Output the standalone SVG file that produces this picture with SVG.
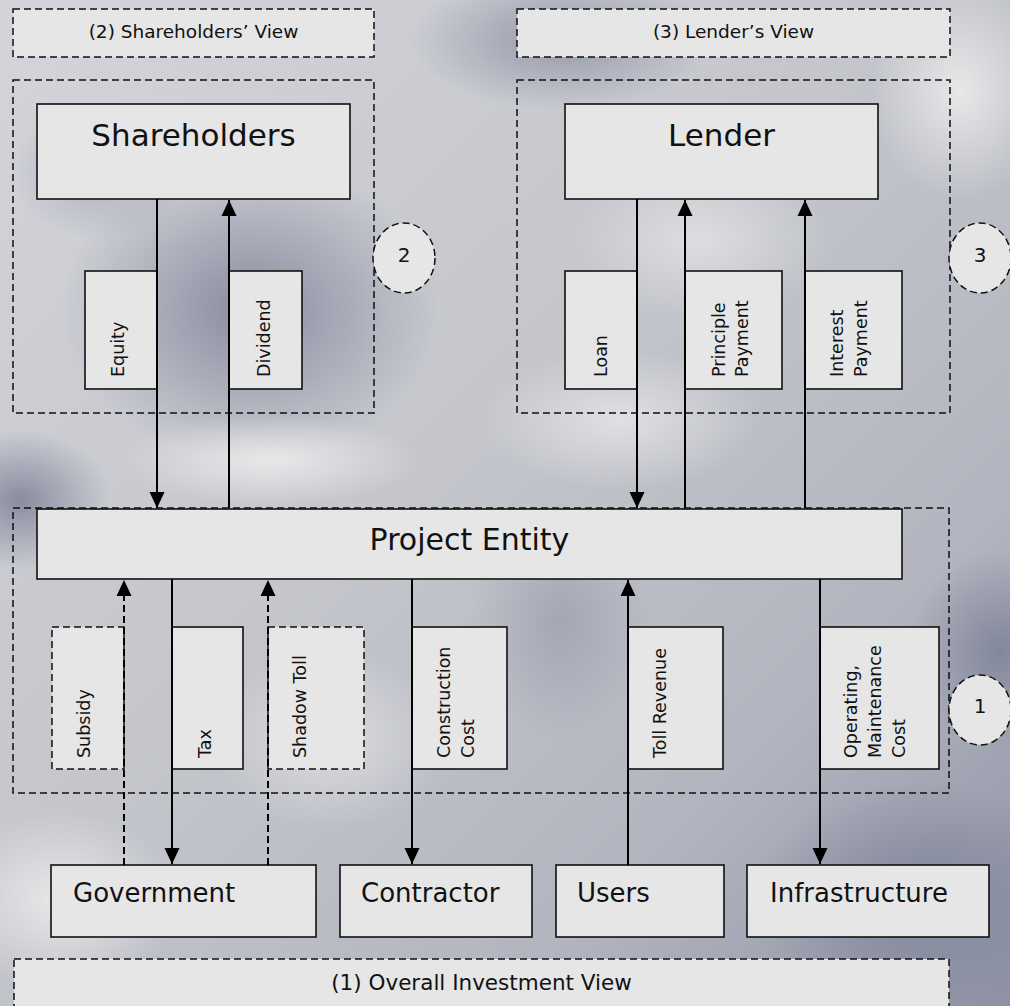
<svg xmlns="http://www.w3.org/2000/svg" width="1010" height="1006" viewBox="0 0 1010 1006">
  <defs>
    <linearGradient id="bgLin" x1="0" y1="0" x2="1" y2="1">
      <stop offset="0" stop-color="#d4d5da"/>
      <stop offset="0.45" stop-color="#c4c6cc"/>
      <stop offset="0.75" stop-color="#b2b5bf"/>
      <stop offset="1" stop-color="#8e92a4"/>
    </linearGradient>
    <radialGradient id="dark">
      <stop offset="0" stop-color="#7d8197" stop-opacity="0.85"/>
      <stop offset="1" stop-color="#7d8197" stop-opacity="0"/>
    </radialGradient>
    <radialGradient id="light">
      <stop offset="0" stop-color="#ececec" stop-opacity="0.9"/>
      <stop offset="1" stop-color="#ececec" stop-opacity="0"/>
    </radialGradient>
    <marker id="arr" markerUnits="userSpaceOnUse" markerWidth="16" markerHeight="16" refX="16" refY="8" orient="auto">
      <path d="M0,0.5 L16,8 L0,15.5 z" fill="#000"/>
    </marker>
    <style>
      .box { fill: #e6e6e6; stroke: #111; stroke-width: 1.6; }
      .dbox { fill: #e6e6e6; stroke: #111; stroke-width: 1.5; stroke-dasharray: 7 4; }
      .region { fill: none; stroke: #111; stroke-width: 1.5; stroke-dasharray: 7 4; }
      .t { font-family: "DejaVu Sans", Verdana, sans-serif; fill: #111; }
      .big { font-size: 31px; text-anchor: middle; }
      .mid { font-size: 26px; }
      .view { font-size: 18.5px; text-anchor: middle; }
      .lbl { font-size: 17.5px; }
      .num { font-size: 20px; text-anchor: middle; }
      .flow { stroke: #000; stroke-width: 2; fill: none; marker-end: url(#arr); }
      .dflow { stroke: #000; stroke-width: 2; fill: none; stroke-dasharray: 7 4; marker-end: url(#arr); }
    </style>
  </defs>

  <!-- background -->
  <rect x="0" y="0" width="1010" height="1006" fill="url(#bgLin)"/>
  <ellipse cx="250" cy="310" rx="190" ry="150" fill="url(#dark)"/>
  <ellipse cx="20" cy="500" rx="90" ry="70" fill="url(#dark)"/>
  <ellipse cx="560" cy="40" rx="150" ry="70" fill="url(#dark)" opacity="0.8"/>
  <ellipse cx="1000" cy="650" rx="90" ry="100" fill="url(#dark)"/>
  <ellipse cx="920" cy="900" rx="170" ry="120" fill="url(#dark)"/>
  <ellipse cx="100" cy="170" rx="90" ry="70" fill="url(#dark)" opacity="0.5"/>
  <ellipse cx="560" cy="620" rx="90" ry="120" fill="url(#dark)" opacity="0.45"/>
  <ellipse cx="270" cy="460" rx="150" ry="45" fill="url(#light)"/>
  <ellipse cx="620" cy="420" rx="140" ry="70" fill="url(#light)" opacity="0.8"/>
  <ellipse cx="960" cy="90" rx="90" ry="110" fill="url(#light)"/>
  <ellipse cx="60" cy="900" rx="120" ry="90" fill="url(#light)"/>
  <ellipse cx="330" cy="740" rx="120" ry="90" fill="url(#light)" opacity="0.7"/>
  <ellipse cx="700" cy="240" rx="130" ry="80" fill="url(#light)" opacity="0.7"/>

  <!-- view labels and regions -->
  <g id="view2">
    <rect class="dbox" x="13" y="9" width="361" height="48"/>
    <text class="t view" x="193.5" y="38">(2) Shareholders’ View</text>
  </g>
  <g id="view3">
    <rect class="dbox" x="517" y="9" width="433" height="48"/>
    <text class="t view" x="733.5" y="38">(3) Lender’s View</text>
  </g>
  <g id="view1">
    <rect class="dbox" x="14" y="959" width="935" height="70"/>
    <text class="t view" style="font-size:21.5px" x="481.5" y="990">(1) Overall Investment View</text>
  </g>
  <g id="region2"><rect class="region" x="13" y="80" width="361" height="333"/></g>
  <g id="region3"><rect class="region" x="517" y="80" width="433" height="333"/></g>
  <g id="region1"><rect class="region" x="13" y="508" width="936" height="285"/></g>

  <g id="marker2">
    <ellipse class="dbox" cx="404" cy="258" rx="31" ry="35"/>
    <text class="t num" x="404" y="262">2</text>
  </g>
  <g id="marker3">
    <ellipse class="dbox" cx="980" cy="258" rx="31" ry="35"/>
    <text class="t num" x="980" y="262">3</text>
  </g>
  <g id="marker1">
    <ellipse class="dbox" cx="980" cy="710" rx="31" ry="35"/>
    <text class="t num" x="980" y="713">1</text>
  </g>

  <!-- main nodes -->
  <g id="shareholders">
    <rect class="box" x="37" y="104" width="313" height="95"/>
    <text class="t big" x="193.5" y="146">Shareholders</text>
  </g>
  <g id="lender">
    <rect class="box" x="565" y="104" width="313" height="95"/>
    <text class="t big" x="721.5" y="146">Lender</text>
  </g>
  <g id="project">
    <rect class="box" x="37" y="509" width="865" height="70"/>
    <text class="t big" style="font-size:30px" x="469.5" y="550">Project Entity</text>
  </g>
  <g id="government">
    <rect class="box" x="51" y="865" width="265" height="72"/>
    <text class="t mid" x="73" y="902">Government</text>
  </g>
  <g id="contractor">
    <rect class="box" x="340" y="865" width="192" height="72"/>
    <text class="t mid" x="361" y="902">Contractor</text>
  </g>
  <g id="users">
    <rect class="box" x="556" y="865" width="168" height="72"/>
    <text class="t mid" x="577" y="902">Users</text>
  </g>
  <g id="infrastructure">
    <rect class="box" x="747" y="865" width="242" height="72"/>
    <text class="t mid" x="770" y="902">Infrastructure</text>
  </g>

  <!-- flow label boxes -->
  <g id="lbl-equity">
    <rect class="box" x="85" y="271" width="72" height="118"/>
    <text class="t lbl" transform="translate(124,377) rotate(-90)">Equity</text>
  </g>
  <g id="lbl-dividend">
    <rect class="box" x="229" y="271" width="73" height="118"/>
    <text class="t lbl" transform="translate(270,377) rotate(-90)">Dividend</text>
  </g>
  <g id="lbl-loan">
    <rect class="box" x="565" y="271" width="72" height="118"/>
    <text class="t lbl" transform="translate(607,377) rotate(-90)">Loan</text>
  </g>
  <g id="lbl-principle">
    <rect class="box" x="685" y="271" width="97" height="118"/>
    <text class="t lbl" transform="translate(725,377) rotate(-90)"><tspan x="0" y="0">Principle</tspan><tspan x="0" y="23">Payment</tspan></text>
  </g>
  <g id="lbl-interest">
    <rect class="box" x="805" y="271" width="97" height="118"/>
    <text class="t lbl" transform="translate(843,377) rotate(-90)"><tspan x="0" y="0">Interest</tspan><tspan x="0" y="23.5">Payment</tspan></text>
  </g>
  <g id="lbl-subsidy">
    <rect class="dbox" x="52" y="627" width="72" height="142"/>
    <text class="t lbl" transform="translate(90,758) rotate(-90)">Subsidy</text>
  </g>
  <g id="lbl-tax">
    <rect class="box" x="172" y="627" width="71" height="142"/>
    <text class="t lbl" transform="translate(211,758) rotate(-90)">Tax</text>
  </g>
  <g id="lbl-shadowtoll">
    <rect class="dbox" x="268" y="627" width="96" height="142"/>
    <text class="t lbl" transform="translate(306,758) rotate(-90)">Shadow Toll</text>
  </g>
  <g id="lbl-construction">
    <rect class="box" x="412" y="627" width="95" height="142"/>
    <text class="t lbl" transform="translate(450,758) rotate(-90)"><tspan x="0" y="0">Construction</tspan><tspan x="0" y="24">Cost</tspan></text>
  </g>
  <g id="lbl-toll">
    <rect class="box" x="628" y="627" width="95" height="142"/>
    <text class="t lbl" transform="translate(666,758) rotate(-90)">Toll Revenue</text>
  </g>
  <g id="lbl-om">
    <rect class="box" x="820" y="627" width="119" height="142"/>
    <text class="t lbl" transform="translate(857,758) rotate(-90)"><tspan x="0" y="0">Operating,</tspan><tspan x="0" y="24">Maintenance</tspan><tspan x="0" y="48">Cost</tspan></text>
  </g>

  <!-- connectors -->
  <g id="connectors">
    <line class="flow" x1="157" y1="199" x2="157" y2="508"/>
    <line class="flow" x1="229" y1="508" x2="229" y2="200"/>
    <line class="flow" x1="637" y1="199" x2="637" y2="508"/>
    <line class="flow" x1="685" y1="508" x2="685" y2="200"/>
    <line class="flow" x1="805" y1="508" x2="805" y2="200"/>
    <line class="dflow" x1="124" y1="865" x2="124" y2="580"/>
    <line class="flow" x1="172" y1="579" x2="172" y2="864"/>
    <line class="dflow" x1="268" y1="865" x2="268" y2="580"/>
    <line class="flow" x1="412" y1="579" x2="412" y2="864"/>
    <line class="flow" x1="628" y1="865" x2="628" y2="580"/>
    <line class="flow" x1="820" y1="579" x2="820" y2="864"/>
  </g>
</svg>
